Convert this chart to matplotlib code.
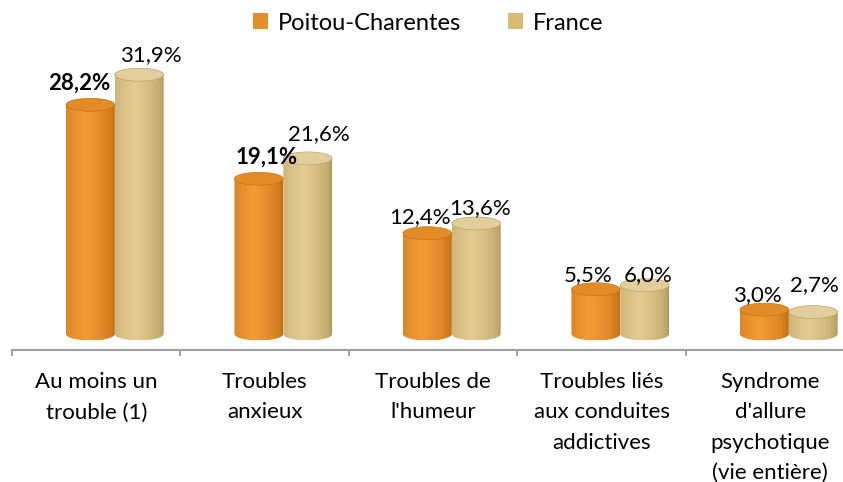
import numpy as np
import matplotlib
matplotlib.use("Agg")
import matplotlib.pyplot as plt
import matplotlib.transforms as mtransforms
from matplotlib.patches import Ellipse, PathPatch, Rectangle
from matplotlib.path import Path
from matplotlib.colors import to_rgb

plt.rcParams['font.family'] = ['Lato', 'DejaVu Sans']

categories = ["Au moins un\ntrouble (1)", "Troubles\nanxieux", "Troubles de\nl'humeur",
              "Troubles liés\naux conduites\naddictives", "Syndrome\nd'allure\npsychotique\n(vie entière)"]
series_names = ["Poitou-Charentes", "France"]
poitou = [28.2, 19.1, 12.4, 5.5, 3.0]
france = [31.9, 21.6, 13.6, 6.0, 2.7]
poitou_labels = ["28,2%", "19,1%", "12,4%", "5,5%", "3,0%"]
france_labels = ["31,9%", "21,6%", "13,6%", "6,0%", "2,7%"]
poitou_bold = [True, True, False, False, False]

# label offsets in pixels relative to the top centre of each cylinder
poitou_off = [(-11, 22), (8, 22), (-7, 16), (-8, 14), (-7, 15)]
france_off = [(12, 20), (11, 24), (4, 15), (3, 10), (1, 27)]

W, H, DPI = 843, 482, 100
fig = plt.figure(figsize=(W / DPI, H / DPI), dpi=DPI)
ax = fig.add_axes([12 / W, (H - 350) / H, 1 - 12 / W, 350 / H])

px_per_x = 168.5
px_per_y = 8.13
ax.set_xlim(-0.5, (W - 12) / px_per_x - 0.5)
ax.set_ylim(-16 / px_per_y, 334 / px_per_y)

bar_w = 0.29
offs = [-0.035, 0.255]
ell_h = 2 * 6.5 / px_per_y

palettes = [
    dict(edge="#BC6A10", mid="#F29C35", top="#E38C27"),
    dict(edge="#B0955A", mid="#E4CC90", top="#E2CE9C"),
]


def shade(edge, mid, n=64):
    e = np.array(to_rgb(edge)); m = np.array(to_rgb(mid))
    t = np.linspace(0, 1, n)
    f = np.clip(1 - np.abs(t - 0.4) / 0.6, 0, 1) ** 0.5
    cols = e[None, :] * (1 - f[:, None]) + m[None, :] * f[:, None]
    return cols[None, :, :]


def cylinder(cx, h, pal):
    x0, x1 = cx - bar_w / 2, cx + bar_w / 2
    ry = ell_h / 2
    th = np.linspace(np.pi, 2 * np.pi, 40)
    bottom = np.column_stack([cx + bar_w / 2 * np.cos(th), ry * np.sin(th)])
    verts = [(x0, h)] + [(x0, 0)] + bottom.tolist() + [(x1, 0), (x1, h), (x0, h)]
    path = Path(verts, closed=True)
    body = PathPatch(path, facecolor="none", edgecolor="none")
    ax.add_patch(body)
    im = ax.imshow(shade(pal["edge"], pal["mid"]), extent=[x0, x1, -ry, h],
                   aspect="auto", origin="lower", zorder=2, interpolation="bilinear")
    im.set_clip_path(body)
    top = Ellipse((cx, h), bar_w, ell_h, facecolor=pal["top"], edgecolor=pal["edge"],
                  linewidth=0.4, zorder=3)
    ax.add_patch(top)


for si, (vals, labs, offl) in enumerate([(poitou, poitou_labels, poitou_off),
                                         (france, france_labels, france_off)]):
    for i, v in enumerate(vals):
        cx = i + offs[si]
        cylinder(cx, v, palettes[si])
        dx, dy = offl[i]
        bold = poitou_bold[i] if si == 0 else False
        ax.annotate(labs[i], (cx, v), xytext=(dx * 0.72, dy * 0.72), textcoords="offset points",
                    ha="center", va="center", fontsize=16,
                    fontweight="bold" if bold else "normal", color="black", zorder=5)

ax.set_xticks(range(len(categories)))
ax.set_xticks([i - 0.5 for i in range(len(categories))], minor=True)
ax.set_xticklabels([])
ax.tick_params(axis="x", which="major", length=0)
ax.tick_params(axis="x", which="minor", length=4, width=1.2, color="#909090")
ax.set_yticks([])
label_tr = ax.transData + mtransforms.ScaledTranslation(0, -22 / DPI, fig.dpi_scale_trans)
for i, lab in enumerate(categories):
    ax.text(i, -16 / px_per_y, lab, transform=label_tr, ha="center", va="top",
            fontsize=16, linespacing=1.65, clip_on=False)
for s in ["left", "top", "right"]:
    ax.spines[s].set_visible(False)
ax.spines["bottom"].set_color("#A0A0A0")
ax.spines["bottom"].set_linewidth(1.5)
ax.spines["bottom"].set_position(("data", -16 / px_per_y))

handles = [Rectangle((0, 0), 1, 1, facecolor="#E58E2C", edgecolor="none"),
           Rectangle((0, 0), 1, 1, facecolor="#D9BB78", edgecolor="none")]
fig.legend(handles, series_names, loc="center", bbox_to_anchor=(428 / W, 1 - 23 / H),
           ncol=2, frameon=False, fontsize=17, handlelength=0.65, handleheight=0.65,
           handletextpad=0.4, columnspacing=2.0)

fig.savefig("out.png", dpi=DPI)
